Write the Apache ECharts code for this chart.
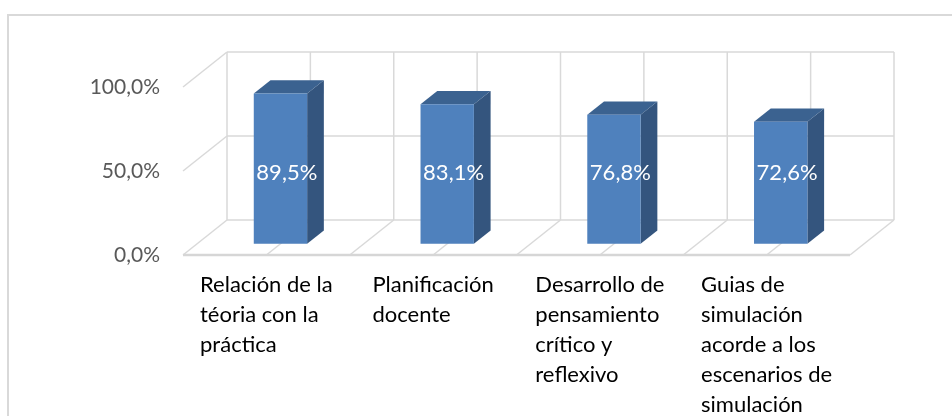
<!DOCTYPE html>
<html>
<head>
<meta charset="utf-8">
<script src="https://cdn.jsdelivr.net/npm/echarts@6/dist/echarts.min.js"></script>
<style>
html, body { margin: 0; padding: 0; background: #fff; }
#chart { width: 952px; height: 416px; }
</style>
</head>
<body>
<div id="chart"></div>
<script>
var categories = [
    'Relación de la\ntéoria con la\npráctica',
    'Planificación\ndocente',
    'Desarrollo de\npensamiento\ncrítico y\nreflexivo',
    'Guias de\nsimulación\nacorde a los\nescenarios de\nsimulación'
];
var values = [0.895, 0.831, 0.768, 0.726];
var yTicks = [0, 0.5, 1];

// fake 3d: depth vector of the floor, bar position inside the depth
var DX = 44, DY = -35;
var BAR_D0 = 0.32, BAR_D = 0.38, BAR_W = 0.32;
var FONT = 'Lato';

const chart = echarts.init(document.getElementById('chart'));

function pct(v) {
    return (v * 100).toFixed(1).replace('.', ',') + '%';
}

function renderWalls(params, api) {
    var band = api.size([1, 0])[0];
    var p0 = api.coord([0, 0]);
    var n = categories.length;
    var L = p0[0] - band / 2,
        R = L + band * n,
        y0 = p0[1],
        yTop = api.coord([0, yTicks[yTicks.length - 1]])[1];
    var st = { stroke: '#d9d9d9', lineWidth: 1.5 };
    var ch = [];

    function line(x1, y1, x2, y2, s) {
        ch.push({ type: 'line', shape: { x1: x1, y1: y1, x2: x2, y2: y2 }, style: s || st });
    }

    yTicks.forEach(function (t) {
        var y = api.coord([0, t])[1];
        line(L, y, L + DX, y + DY);
        line(L + DX, y + DY, R + DX, y + DY);
    });
    line(L + DX, y0 + DY, L + DX, yTop + DY);
    for (var k = 1; k <= 2 * n; k++) {
        var x = L + k * band / 2;
        line(x + DX, y0 + DY, x + DX, yTop + DY);
        line(x, y0, x + DX, y0 + DY);
    }
    line(L, y0, R, y0, { stroke: '#d6d6d6', lineWidth: 2.5 });
    return { type: 'group', children: ch };
}

function renderBar(params, api) {
    var i = api.value(0), v = api.value(1);
    var band = api.size([1, 0])[0];
    var base = api.coord([i, 0]);
    var top = api.coord([i, v]);
    var w = band * BAR_W;
    var cx = base[0] + BAR_D0 * DX;
    var x0 = cx - w / 2, x1 = cx + w / 2;
    var yb = base[1] + BAR_D0 * DY, yt = top[1] + BAR_D0 * DY;
    var ox = BAR_D * DX, oy = BAR_D * DY;
    return {
        type: 'group',
        children: [
            {
                type: 'polygon',
                shape: { points: [[x1, yb], [x1 + ox, yb + oy], [x1 + ox, yt + oy], [x1, yt]] },
                style: { fill: '#34557e' }
            },
            {
                type: 'polygon',
                shape: { points: [[x0, yt], [x0 + ox, yt + oy], [x1 + ox, yt + oy], [x1, yt]] },
                style: { fill: '#3b6290' }
            },
            {
                type: 'rect',
                shape: { x: x0, y: yt, width: w, height: yb - yt },
                style: { fill: '#4f81bd' }
            },
            {
                type: 'text',
                x: cx + ox / 2 - 2,
                y: api.coord([i, 0.5])[1] + 2,
                style: {
                    text: pct(v),
                    fill: '#fff',
                    font: '22px ' + FONT,
                    align: 'center',
                    verticalAlign: 'middle'
                }
            }
        ]
    };
}

chart.setOption({
    animation: false,
    backgroundColor: '#fff',
    graphic: [{
        type: 'rect',
        shape: { x: 8, y: 15, width: 980, height: 440 },
        style: { fill: 'none', stroke: '#d9d9d9', lineWidth: 2 },
        silent: true
    }],
    grid: {
        left: 183,
        right: 102,
        top: 87,
        bottom: 159
    },
    xAxis: {
        type: 'category',
        data: categories,
        axisLine: { show: false },
        axisTick: { show: false },
        splitLine: { show: false },
        axisLabel: {
            interval: 0,
            margin: 15,
            formatter: function (v) {
                return v.split('\n').map(function (s) { return '{a|' + s + '}'; }).join('\n');
            },
            rich: {
                a: {
                    align: 'left',
                    fontFamily: FONT,
                    fontSize: 22,
                    lineHeight: 30,
                    color: '#000'
                }
            }
        }
    },
    yAxis: {
        type: 'value',
        min: 0,
        max: 1,
        interval: 0.5,
        axisLine: { show: false },
        axisTick: { show: false },
        splitLine: { show: false },
        axisLabel: {
            formatter: pct,
            margin: 23,
            color: '#595959',
            fontFamily: FONT,
            fontSize: 21
        }
    },
    series: [
        {
            type: 'custom',
            renderItem: renderWalls,
            data: [[0, 0]],
            silent: true,
            z: 1
        },
        {
            type: 'custom',
            renderItem: renderBar,
            data: values.map(function (v, i) { return [i, v]; }),
            z: 2
        }
    ]
});
</script>
</body>
</html>
